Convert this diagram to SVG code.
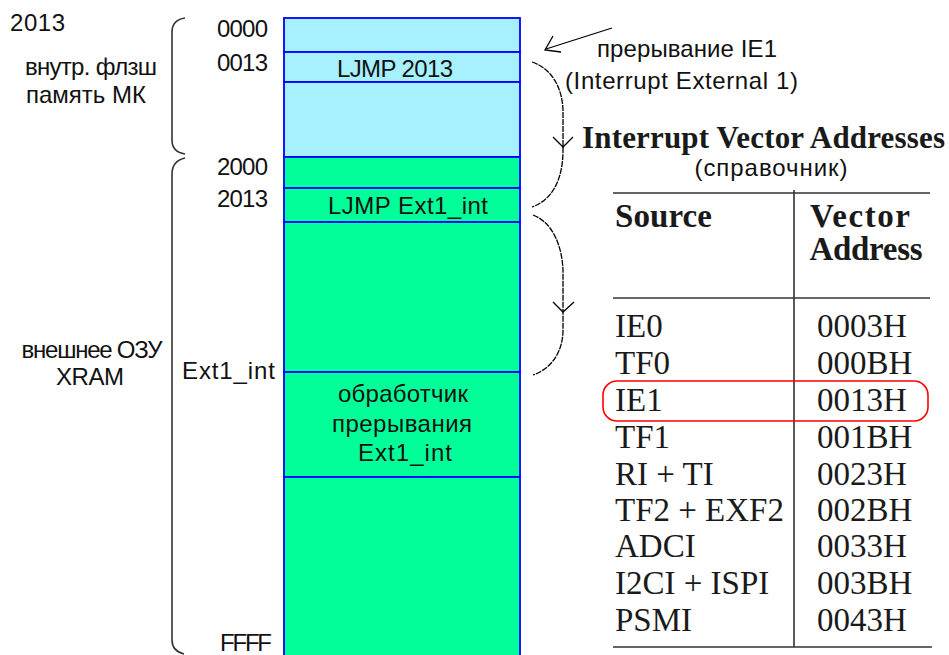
<svg xmlns="http://www.w3.org/2000/svg" width="949" height="655" viewBox="0 0 949 655">
<style>
.s{font-family:"Liberation Sans",Arial,sans-serif;font-size:24px;fill:#111}
.t{font-family:"Liberation Serif","Times New Roman",serif;font-size:33px;fill:#1a1a1a}
.tb{font-family:"Liberation Serif","Times New Roman",serif;font-weight:bold;fill:#1a1a1a}
.cy{fill:#a6f1fd;stroke:#0000ff;stroke-width:1.8}
.gr{fill:#00ff99;stroke:#0000ff;stroke-width:1.8}
.br{fill:none;stroke:#333;stroke-width:1.6}
.cv{fill:none;stroke:#000;stroke-width:1.3}
.rule{stroke:#333;stroke-width:1.6}
</style>
<rect width="949" height="655" fill="#fff"/>

<g id="labels-left">
<text class="s" x="10" y="31" font-size="26" textLength="55">2013</text>
<text class="s" x="25" y="75" textLength="132">внутр. флзш</text>
<text class="s" x="26" y="103" textLength="120">память МК</text>
<text class="s" x="92" y="358" text-anchor="middle" textLength="141">внешнее ОЗУ</text>
<text class="s" x="90" y="385" text-anchor="middle" textLength="68">XRAM</text>
<text class="s" x="217" y="37" textLength="51">0000</text>
<text class="s" x="217" y="71" textLength="51">0013</text>
<text class="s" x="217" y="175" textLength="51">2000</text>
<text class="s" x="217" y="207" textLength="51">2013</text>
<text class="s" x="182" y="379" textLength="93">Ext1_int</text>
<text class="s" x="220" y="651" textLength="52">FFFF</text>
</g>

<g id="braces">
<path class="br" d="M185,18 Q172,20 172,32 L172,140 Q172,152 185,154"/>
<path class="br" d="M185,158 Q172,161 172,174 L172,640 Q172,651 184,654"/>
</g>

<g id="memory">
<g id="m0000"><rect class="cy" x="284" y="18" width="236" height="34"/></g>
<g id="m0013"><rect class="cy" x="284" y="52" width="236" height="30"/>
<text class="s" x="337" y="77" textLength="116">LJMP 2013</text></g>
<g id="mflash"><rect class="cy" x="284" y="82" width="236" height="75"/></g>
<g id="m2000"><rect class="gr" x="284" y="157" width="236" height="31"/></g>
<g id="m2013"><rect class="gr" x="284" y="188" width="236" height="34"/>
<text class="s" x="328" y="214" textLength="160">LJMP Ext1_int</text></g>
<g id="mfree"><rect class="gr" x="284" y="222" width="236" height="150"/></g>
<g id="mhandler"><rect class="gr" x="284" y="372" width="236" height="105"/>
<text class="s" x="403" y="402" text-anchor="middle" textLength="130">обработчик</text>
<text class="s" x="402" y="432" text-anchor="middle" textLength="140">прерывания</text>
<text class="s" x="405" y="461" text-anchor="middle" textLength="94">Ext1_int</text></g>
<g id="mrest"><rect class="gr" x="284" y="477" width="236" height="190"/></g>
</g>

<g id="connectors">
<path class="cv" d="M612,28 L546,49"/>
<path class="cv" d="M553,36 L545,50 L561,52"/>
<path class="cv" stroke-dasharray="6 1" d="M532,62 C550,68 562,85 563,110 L563,150 C563,180 552,200 532,207"/>
<path class="cv" d="M553,137 L563,147 L573,137"/>
<path class="cv" stroke-dasharray="6 1" d="M533,215 C552,222 562,245 563,270 L563,330 C563,350 553,368 533,375"/>
<path class="cv" d="M553,302 L563,312 L574,302"/>
</g>

<g id="interrupt-label">
<text class="s" x="597" y="57" textLength="180">прерывание IE1</text>
<text class="s" x="565" y="89" textLength="233">(Interrupt External 1)</text>
</g>

<g id="table">
<text class="tb" x="582" y="148" font-size="31" textLength="363">Interrupt Vector Addresses</text>
<text class="s" x="771" y="176" text-anchor="middle" textLength="153">(справочник)</text>
<line class="rule" x1="613" y1="193" x2="930" y2="193"/>
<line class="rule" x1="613" y1="298" x2="930" y2="298"/>
<line class="rule" x1="613" y1="647" x2="932" y2="647"/>
<line class="rule" x1="794" y1="190" x2="794" y2="647"/>
<text class="tb" x="615" y="227" font-size="33" textLength="97">Source</text>
<text class="tb" x="860" y="227" font-size="33" text-anchor="middle" textLength="100">Vector</text>
<text class="tb" x="866" y="260" font-size="33" text-anchor="middle" textLength="113">Address</text>
<g class="t">
<text x="615" y="337">IE0</text><text x="817" y="337">0003H</text>
<text x="615" y="374">TF0</text><text x="817" y="374">000BH</text>
<text x="615" y="411">IE1</text><text x="817" y="411">0013H</text>
<text x="615" y="448">TF1</text><text x="817" y="448">001BH</text>
<text x="615" y="485">RI + TI</text><text x="817" y="485">0023H</text>
<text x="615" y="521">TF2 + EXF2</text><text x="817" y="521">002BH</text>
<text x="615" y="557">ADCI</text><text x="817" y="557">0033H</text>
<text x="615" y="594">I2CI + ISPI</text><text x="817" y="594">003BH</text>
<text x="615" y="631">PSMI</text><text x="817" y="631">0043H</text>
</g>
<rect x="603" y="381" width="325" height="40" rx="14" fill="none" stroke="#ff0000" stroke-width="1.6"/>
</g>
</svg>
